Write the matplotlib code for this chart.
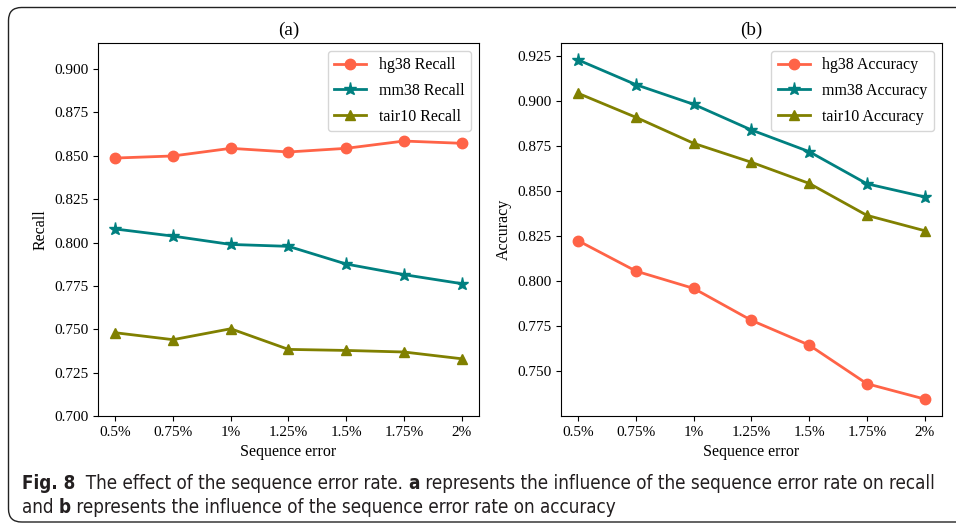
import matplotlib
matplotlib.use('Agg')
import matplotlib.pyplot as plt
from matplotlib.patches import FancyBboxPatch

# Dados dos experimentos (taxa de erro de sequência)
taxas = ['0.5%', '0.75%', '1%', '1.25%', '1.5%', '1.75%', '2%']

recall_hg38 = [0.8487, 0.8499, 0.8543, 0.8522, 0.8543, 0.8585, 0.8572]
recall_mm38 = [0.8078, 0.8037, 0.7989, 0.7978, 0.7876, 0.7815, 0.7763]
recall_tair10 = [0.7480, 0.7440, 0.7503, 0.7384, 0.7378, 0.7369, 0.7330]

acc_hg38 = [0.8224, 0.8056, 0.7960, 0.7783, 0.7646, 0.7432, 0.7347]
acc_mm38 = [0.9226, 0.9089, 0.8980, 0.8838, 0.8718, 0.8540, 0.8467]
acc_tair10 = [0.9041, 0.8908, 0.8764, 0.8659, 0.8542, 0.8365, 0.8280]

plt.rcParams['font.family'] = ['Liberation Serif', 'DejaVu Serif']
plt.rcParams['font.size'] = 11.5
plt.rcParams['xtick.labelsize'] = 11
plt.rcParams['ytick.labelsize'] = 11

fig = plt.figure(figsize=(9.56, 5.26), dpi=100)
ax1 = fig.add_axes([0.1025, 0.2091, 0.3985, 0.7091])
ax2 = fig.add_axes([0.5868, 0.2091, 0.3985, 0.7091])

estilos = [('tomato', 'o', 7.5), ('teal', '*', 9.5), ('olive', '^', 7.5)]

# Gráfico (a) - Recall
for serie, nome, (cor, mk, tam) in zip([recall_hg38, recall_mm38, recall_tair10],
                                       ['hg38 Recall', 'mm38 Recall', 'tair10 Recall'], estilos):
    ax1.plot(taxas, serie, color=cor, marker=mk, lw=2, ms=tam, label=nome)
ax1.set_ylim(0.70, 0.915)
ax1.set_yticks([0.700, 0.725, 0.750, 0.775, 0.800, 0.825, 0.850, 0.875, 0.900])
ax1.yaxis.set_major_formatter(matplotlib.ticker.FormatStrFormatter('%.3f'))
ax1.set_title('(a)', pad=6)
ax1.set_xlabel('Sequence error', labelpad=4)
ax1.set_ylabel('Recall')
ax1.legend(loc='upper right', labelspacing=0.6)

# Gráfico (b) - Accuracy
for serie, nome, (cor, mk, tam) in zip([acc_hg38, acc_mm38, acc_tair10],
                                       ['hg38 Accuracy', 'mm38 Accuracy', 'tair10 Accuracy'], estilos):
    ax2.plot(taxas, serie, color=cor, marker=mk, lw=2, ms=tam, label=nome)
ax2.yaxis.set_major_formatter(matplotlib.ticker.FormatStrFormatter('%.3f'))
ax2.set_title('(b)', pad=6)
ax2.set_xlabel('Sequence error', labelpad=4)
ax2.set_ylabel('Accuracy')
ax2.legend(loc='upper right', labelspacing=0.6)

# Moldura arredondada da figura
moldura = FancyBboxPatch((8.5, 4), 1100, 514.5, boxstyle='round,pad=0,rounding_size=13',
                         transform=None, fill=False, ec='#222222', lw=1.0)
fig.patches.append(moldura)

# Legenda da figura com partes em negrito
linhas = [
    [('Fig. 8', 'bold'), ('  The effect of the sequence error rate. ', 'normal'), ('a', 'bold'),
     (' represents the influence of the sequence error rate on recall', 'normal')],
    [('and ', 'normal'), ('b', 'bold'), (' represents the influence of the sequence error rate on accuracy', 'normal')],
]
fig.canvas.draw()
renderer = fig.canvas.get_renderer()

def escreve_linha(partes, y_px, tamanho):
    x_px = 22
    textos = []
    for texto, peso in partes:
        t = fig.text(x_px / 956, y_px / 526, texto, fontsize=tamanho, fontweight=peso,
                     family='DejaVu Sans', fontstretch='condensed', color='#231f20',
                     va='baseline', ha='left')
        x_px += t.get_window_extent(renderer).width
        textos.append(t)
    return textos, x_px - 22

# ajusta o tamanho para a primeira linha ocupar ~918 px
textos, largura = escreve_linha(linhas[0], 526 - 489, 13)
for t in textos:
    t.remove()
tamanho = 13 * 918 / largura
escreve_linha(linhas[0], 526 - 489, tamanho)
escreve_linha(linhas[1], 526 - 513, tamanho)

fig.savefig('out.png', dpi=100)
